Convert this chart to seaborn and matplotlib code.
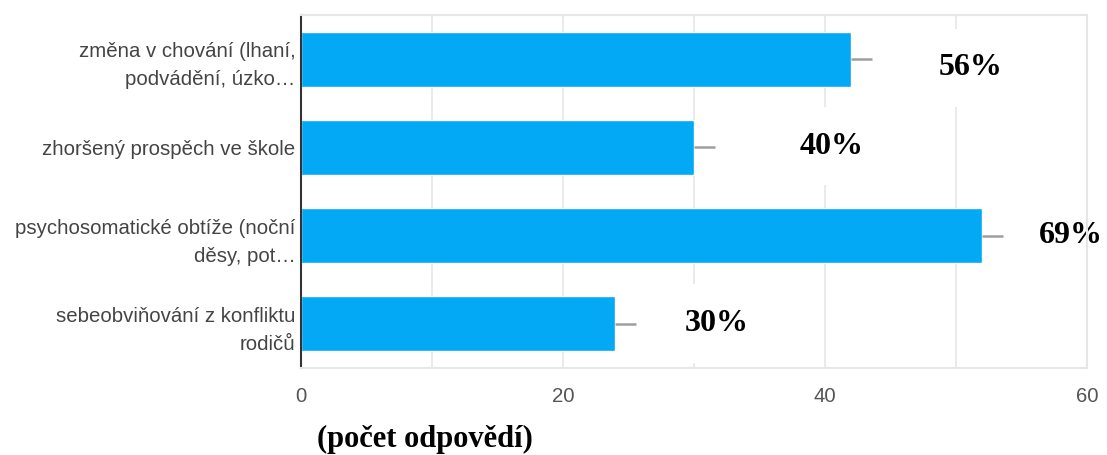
import matplotlib
matplotlib.use("Agg")
import matplotlib.pyplot as plt
import seaborn as sns
import pandas as pd

categories = [
    "změna v chování (lhaní,\npodvádění, úzko…",
    "zhoršený prospěch ve škole",
    "psychosomatické obtíže (noční\nděsy, pot…",
    "sebeobviňování z konfliktu\nrodičů",
]
counts = [42, 30, 52, 24]
pct_labels = ["56%", "40%", "69%", "30%"]
label_gap = [9.1, 10.5, 6.8, 7.7]     # horizontal offset of percent labels (style)
label_dy = [0.10, -0.015, -0.005, -0.005]  # vertical nudge (style)
xticks = [0, 20, 40, 60]
xlabel = "(počet odpovědí)"

sns.set_style("white")
plt.rcParams['font.family'] = ['Liberation Sans', 'DejaVu Sans']

fig = plt.figure(figsize=(11.07, 4.55), dpi=100)
ax = fig.add_axes([301/1107, 1 - 368/455, (1087 - 301)/1107, (368 - 15)/455])

df = pd.DataFrame({"cat": categories, "count": counts})
sns.barplot(data=df, x="count", y="cat", orient="h", color="#03A9F4",
            saturation=1, width=0.625, ax=ax, zorder=3)

# small grey stubs at bar ends
ax.hlines(range(len(counts)), counts, [c + 1.6 for c in counts],
          color="#9e9e9e", lw=1.8, zorder=4)

ax.set_xlim(0, 60)
ax.set_ylim(3.5, -0.5)
ax.set_xticks(range(0, 61, 10))
ax.set_xticklabels(["" if v not in xticks else str(v) for v in range(0, 61, 10)])
ax.grid(axis="x", color="#e6e6e6", lw=1.2, zorder=0)
ax.grid(axis="y", visible=False)
ax.tick_params(axis="both", length=0, labelsize=14.7)
ax.tick_params(axis="x", colors="#555555", pad=14)
ax.tick_params(axis="y", colors="#444444", pad=4)
for lbl in ax.get_yticklabels():
    lbl.set_linespacing(1.6)
ax.set_xlabel("")
ax.set_ylabel("")

for side in ["top", "bottom", "right"]:
    ax.spines[side].set_color("#e6e6e6")
    ax.spines[side].set_linewidth(1.5)
ax.spines["left"].set_color("#333333")
ax.spines["left"].set_linewidth(1.5)
for s in ax.spines.values():
    s.set_zorder(6)

for i, (c, t) in enumerate(zip(counts, pct_labels)):
    ax.text(c + label_gap[i], i + label_dy[i], t, ha="center", va="center",
            fontsize=23, fontweight="bold", family="Liberation Serif",
            color="black", zorder=5, clip_on=False,
            bbox=dict(facecolor="white", edgecolor="none", pad=18))

fig.text(425/1107, 1 - 439/455, xlabel, ha="center", va="center",
         fontsize=22, fontweight="bold", family="Liberation Serif", color="black")

fig.savefig("out.png", dpi=100, facecolor="white")
